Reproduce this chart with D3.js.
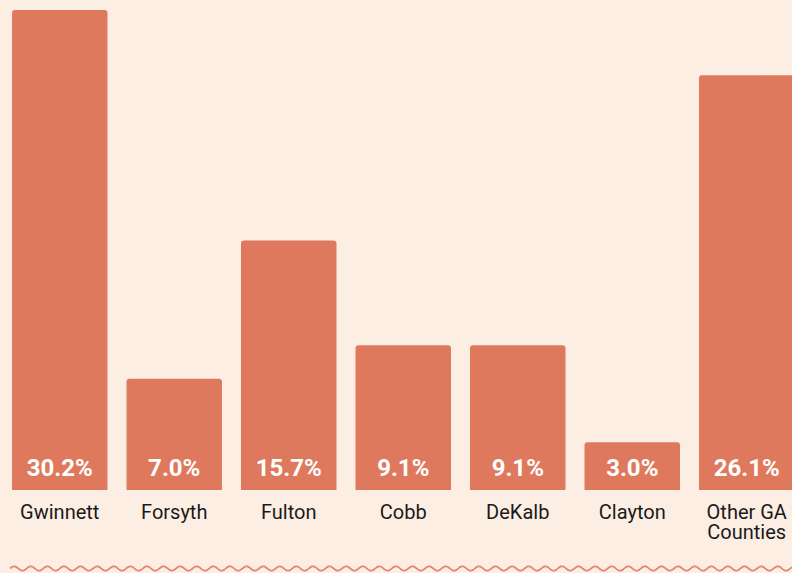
<!DOCTYPE html>
<html>
<head>
<meta charset="utf-8">
<script src="https://cdn.jsdelivr.net/npm/d3@7"></script>
<style>
  html, body { margin: 0; padding: 0; background: #fdeee4; }
  svg { display: block; }
</style>
</head>
<body>
<svg id="chart" width="792" height="573"></svg>
<script>
const categories = ["Gwinnett", "Forsyth", "Fulton", "Cobb", "DeKalb", "Clayton", "Other GA Counties"];
const values = [30.2, 7.0, 15.7, 9.1, 9.1, 3.0, 26.1];
const valueLabels = ["30.2%", "7.0%", "15.7%", "9.1%", "9.1%", "3.0%", "26.1%"];

const W = 792, H = 573;
const svg = d3.select("#chart");
svg.append("rect").attr("width", W).attr("height", H).attr("fill", "#fdeee4");

const baseY = 490, topY = 10;
const x = d3.scaleBand().domain(categories).range([12, 794.5]).paddingInner(0.166).paddingOuter(0);
const y = d3.scaleLinear().domain([0, d3.max(values)]).range([baseY, topY]);

const data = categories.map((c, i) => ({ c, v: values[i], label: valueLabels[i] }));
const r = 3;
function barPath(d) {
  const x0 = x(d.c), w = x.bandwidth(), y0 = y(d.v), y1 = y(0);
  return `M${x0},${y1}V${y0 + r}Q${x0},${y0} ${x0 + r},${y0}H${x0 + w - r}Q${x0 + w},${y0} ${x0 + w},${y0 + r}V${y1}Z`;
}

svg.append("g").selectAll("path").data(data).join("path")
  .attr("d", barPath).attr("fill", "#df795d");

svg.append("g").selectAll("text").data(data).join("text")
  .attr("x", d => x(d.c) + x.bandwidth() / 2)
  .attr("y", 475.5)
  .attr("text-anchor", "middle")
  .attr("fill", "#ffffff")
  .attr("font-family", "Roboto, sans-serif")
  .attr("font-weight", "bold")
  .attr("font-size", 24)
  .text(d => d.label);

const catG = svg.append("g");
data.forEach(d => {
  const words = d.c.split(" ");
  const lines = words.length > 2 ? [words.slice(0, 2).join(" "), words.slice(2).join(" ")] : [d.c];
  const t = catG.append("text")
    .attr("x", x(d.c) + x.bandwidth() / 2)
    .attr("y", 519)
    .attr("text-anchor", "middle")
    .attr("fill", "#1a1a1a")
    .attr("font-family", "Roboto, sans-serif")
    .attr("font-size", 20);
  lines.forEach((ln, i) => {
    t.append("tspan").attr("x", x(d.c) + x.bandwidth() / 2).attr("dy", i === 0 ? 0 : 20).text(ln);
  });
});

// wavy decorative line
const period = 16.6, amp = 2.2, cy = 568.5;
const pts = d3.range(10, W + 1, 1).map(px => [px, cy - amp * Math.sin((px - 10) / period * 2 * Math.PI)]);
svg.append("path")
  .attr("d", d3.line()(pts))
  .attr("fill", "none")
  .attr("stroke", "#e3876b")
  .attr("stroke-width", 1.8);
</script>
</body>
</html>
